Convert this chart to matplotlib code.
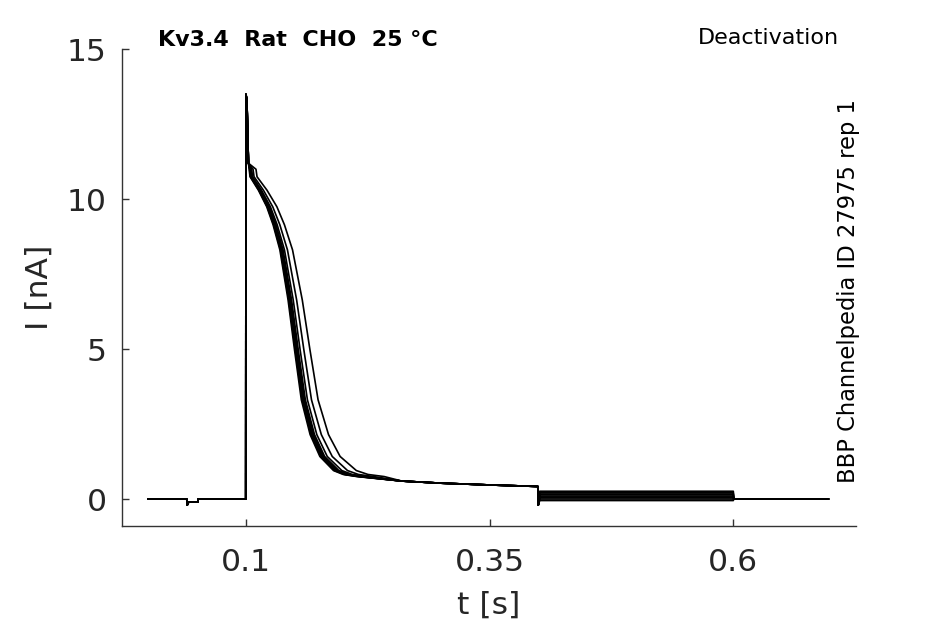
import numpy as np
import matplotlib
matplotlib.use("Agg")
import matplotlib.pyplot as plt

# shared baseline before the pulse (t [s], I [nA])
pre_t = [0.0, 0.0395, 0.0400, 0.0415, 0.0510, 0.0512, 0.1000]
pre_i = [0.0, 0.0, -0.20, -0.10, -0.10, 0.0, 0.0]

# spike at pulse onset
spike_t = [0.1002, 0.1012, 0.1028]
spike_i = [13.5, 13.3, 11.2]

# decay of the fastest trace
decay_t = [0.1035, 0.1044, 0.113, 0.1215, 0.128, 0.135, 0.1434, 0.150, 0.157, 0.166, 0.176, 0.190, 0.200, 0.214]
decay_i = [11.0, 10.75, 10.3, 9.75, 9.15, 8.31, 6.64, 4.98, 3.31, 2.15, 1.42, 0.95, 0.82, 0.75]

# slow tail common to all traces
tail_t = [0.26, 0.30, 0.35, 0.3995]
tail_i = [0.60, 0.53, 0.47, 0.42]

# per-trace delay / slowing of the decay, and current level during 0.4-0.6 s
delay = [0.0, 0.0004, 0.0008, 0.0012, 0.0016, 0.002, 0.0025, 0.004, 0.007]
stretch = [1.0, 1.008, 1.016, 1.024, 1.032, 1.04, 1.07, 1.12, 1.19]
step_level = [-0.05, 0.0, 0.04, 0.07, 0.10, 0.14, 0.17, 0.21, 0.26]

t_step_end = 0.6
t_end = 0.6975

fig = plt.figure(figsize=(9.45, 6.24), dpi=100)
ax = fig.add_axes([0.129, 0.157, 0.777, 0.764])

t0 = decay_t[0]
for d, s, lev in zip(delay, stretch, step_level):
    dt = [t0 + d + (t - t0) * s for t in decay_t]
    t = pre_t + spike_t + dt + tail_t + [0.4, 0.4015, t_step_end, t_step_end + 0.0005, t_end]
    i = pre_i + spike_i + decay_i + tail_i + [-0.2, lev, lev, 0.0, 0.0]
    ax.plot(t, i, color='black', lw=1.2)

ax.set_xlim(-0.027, 0.726)
ax.set_ylim(-0.9, 15)
ax.set_xticks([0.1, 0.35, 0.6])
ax.set_xticklabels(['0.1', '0.35', '0.6'])
ax.set_yticks([0, 5, 10, 15])

for side in ['top', 'right']:
    ax.spines[side].set_visible(False)
for side in ['left', 'bottom']:
    ax.spines[side].set_color('#333333')
    ax.spines[side].set_linewidth(1.0)
ax.tick_params(direction='in', length=5, width=1.0, color='#333333',
               labelsize=22.6, labelcolor='#262626')
ax.tick_params(axis='x', pad=16)
ax.tick_params(axis='y', pad=11)

ax.set_xlabel('t [s]', fontsize=22.6, color='#262626', labelpad=10)
ax.set_ylabel('I [nA]', fontsize=22.6, color='#262626', labelpad=9)

fig.text(0.167, 0.936, 'Kv3.4  Rat  CHO  25 °C', fontsize=16, fontweight='bold',
         ha='left', va='center')
fig.text(0.888, 0.939, 'Deactivation', fontsize=16, ha='right', va='center')
fig.text(0.898, 0.226, 'BBP Channelpedia ID 27975 rep 1', fontsize=16.3,
         rotation=90, ha='center', va='bottom')

fig.savefig('out.png', dpi=100)
